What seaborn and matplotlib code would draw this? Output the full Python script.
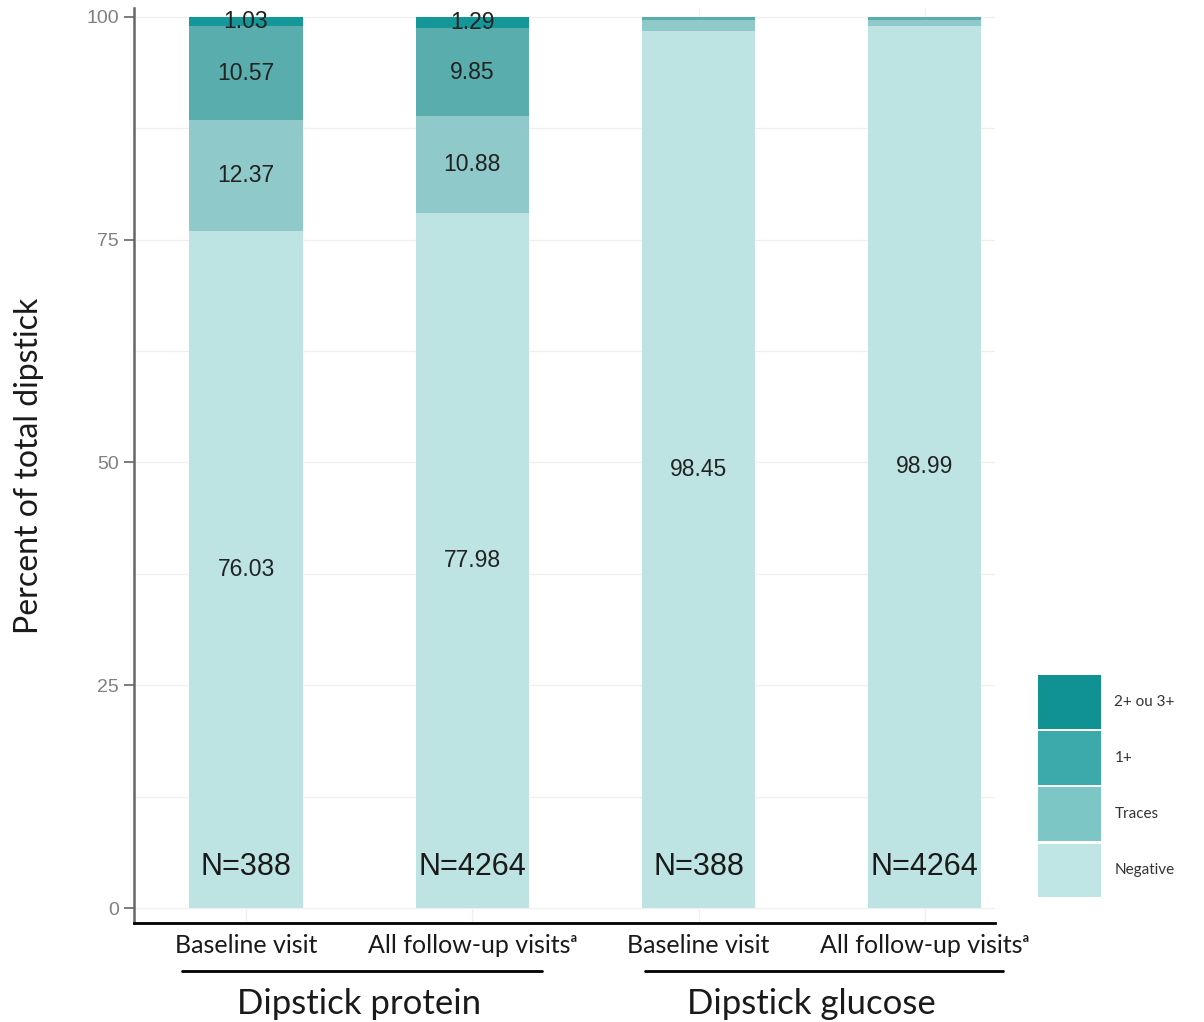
import pandas as pd
import matplotlib
matplotlib.use("Agg")
import matplotlib.pyplot as plt
import matplotlib.transforms as mtransforms
from matplotlib.patches import Patch
import seaborn as sns

# bar order: protein baseline, protein follow-up, glucose baseline, glucose follow-up
bars = ["protein_base", "protein_follow", "glucose_base", "glucose_follow"]
visit_labels = ["Baseline visit", "All follow-up visitsᵃ",
                "Baseline visit", "All follow-up visitsᵃ"]
groups = ["Dipstick protein", "Dipstick glucose"]
levels = ["Negative", "Traces", "1+", "2+ ou 3+"]
negative = [76.03, 77.98, 98.45, 98.99]
traces = [12.37, 10.88, 1.16, 0.71]
plus1 = [10.57, 9.85, 0.39, 0.30]
plus23 = [1.03, 1.29, 0.0, 0.0]
n_counts = [388, 4264, 388, 4264]
label_small = [True, True, False, False]

bar_colors = ["#bde3e3", "#90c9c9", "#5aadad", "#15979a"]
legend_colors = ["#bfe5e5", "#7cc6c6", "#3caaaa", "#109292"]

df = pd.DataFrame({"bar": bars, "Negative": negative, "Traces": traces,
                   "1+": plus1, "2+ ou 3+": plus23})
cum = df[levels].cumsum(axis=1)
cum["bar"] = df["bar"]

sns.set_theme(style="white")
plt.rcParams["font.family"] = ["Lato", "DejaVu Sans"]

fig = plt.figure(figsize=(12.04, 10.22), dpi=100)
ax = fig.add_axes([134 / 1204, 99 / 1022, 861 / 1204, 915 / 1022])

# stacked bars: draw cumulative totals from the top layer down
for lvl, col in reversed(list(zip(levels, bar_colors))):
    sns.barplot(data=cum, x="bar", y=lvl, order=bars, color=col, width=0.5,
                errorbar=None, saturation=1, linewidth=0, ax=ax)

# segment value labels
for i in range(len(bars)):
    for lvl in levels:
        val = df.loc[i, lvl]
        if val <= 0 or (val < 5 and not label_small[i]):
            continue
        center = cum.loc[i, lvl] - val / 2
        ax.text(i, center, f"{val:.2f}", ha="center", va="center",
                fontsize=16.5, color="#222222", family=["Liberation Sans"])
    ax.text(i, 4.6, f"N={n_counts[i]}", ha="center", va="center",
            fontsize=22, color="#1a1a1a", family=["Liberation Sans"])

ax.set_xlim(-0.495, 3.31)
ax.set_ylim(-1.68, 101.0)
ax.set_yticks([0, 25, 50, 75, 100])
ax.set_yticks([12.5, 37.5, 62.5, 87.5], minor=True)
ax.set_xticks(range(len(bars)))
ax.set_xticklabels(visit_labels, fontsize=18, color="#1a1a1a")
ax.set_xlabel("")
ax.grid(True, which="both", color="#f0f0f0", linewidth=1)
ax.set_axisbelow(True)
ax.tick_params(axis="x", length=0, pad=8)
ax.tick_params(axis="y", which="major", length=7, width=1.2, color="#666666",
               labelsize=14, labelcolor="#808080", pad=4, left=True)
ax.tick_params(axis="y", which="minor", length=0)
for lab in ax.get_yticklabels():
    lab.set_family(["Liberation Sans"])

ax.set_ylabel("Percent of total dipstick", fontsize=23, color="#1a1a1a")
ax.yaxis.set_label_coords(-0.1045, 0.5)

for s in ["top", "right"]:
    ax.spines[s].set_visible(False)
ax.spines["left"].set_color("#666666")
ax.spines["left"].set_linewidth(1.8)
ax.spines["bottom"].set_color("black")
ax.spines["bottom"].set_linewidth(2)

# group underlines and group titles
trans = mtransforms.blended_transform_factory(ax.transData, ax.transAxes)
for (x0, x1), xc, name in zip([(-0.283, 1.308), (1.763, 3.345)], [0.5, 2.5], groups):
    ax.plot([x0, x1], [-0.052, -0.052], color="black", linewidth=2,
            transform=trans, clip_on=False)
    ax.text(xc, -0.088, name, transform=trans, ha="center", va="center",
            fontsize=25, color="#1a1a1a")

handles = [Patch(facecolor=c, edgecolor="none", label=l)
           for l, c in reversed(list(zip(levels, legend_colors)))]
ax.legend(handles=handles, loc="upper left",
          bbox_to_anchor=(1038 / 1204, 1 - 675 / 1022),
          bbox_transform=fig.transFigure, frameon=False, fontsize=11,
          handlelength=4.1, handleheight=5.05, labelspacing=0.15,
          handletextpad=0.9, borderpad=0, borderaxespad=0,
          labelcolor="#333333")

fig.savefig("out.png", dpi=100)
